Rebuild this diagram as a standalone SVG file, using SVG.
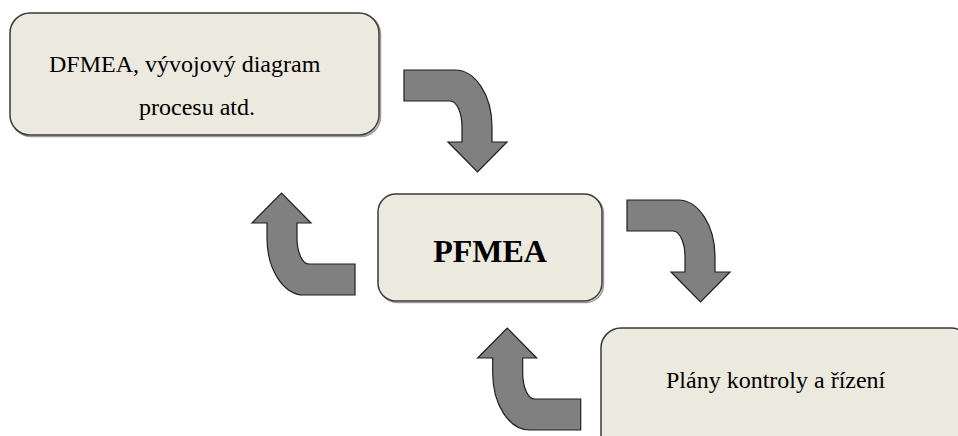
<svg xmlns="http://www.w3.org/2000/svg" width="958" height="436" viewBox="0 0 958 436">
  <defs>
    <!-- bent block arrow: horizontal shaft from the left, turning down into a head -->
    <path id="bent-arrow" d="M0,0 L51,0 A37,57 0 0 1 88,57 L88,72 L103,72 L73.5,102 L44,72 L58,72 L58,57 A12,26 0 0 0 46,31 L0,31 Z"/>
  </defs>
  <style>
    .box { fill: #ECE9DF; stroke: #3a3a3a; stroke-width: 1.5; }
    .shadow { fill: none; stroke: #9a9a9a; stroke-width: 1.5; }
    .label { font-family: "Liberation Serif", "Times New Roman", serif; fill: #000; font-size: 24px; }
    .title { font-family: "Liberation Serif", "Times New Roman", serif; fill: #000; font-size: 32px; font-weight: bold; text-anchor: middle; }
    .arrow { fill: #808080; stroke: #1e1e1e; stroke-width: 1.2; stroke-linejoin: miter; }
  </style>
  <rect width="958" height="436" fill="#ffffff"/>

  <g id="inputs">
    <rect class="shadow" x="11.5" y="14.5" width="369" height="122" rx="20"/>
    <rect class="box" x="10" y="13" width="369" height="122" rx="20"/>
    <text class="label" x="49" y="72">DFMEA, vývojový diagram</text>
    <text class="label" x="139" y="115">procesu atd.</text>
  </g>

  <g id="pfmea">
    <rect class="shadow" x="379.5" y="195.5" width="224" height="107" rx="18"/>
    <rect class="box" x="378" y="194" width="224" height="107" rx="18"/>
    <text class="title" x="490" y="262">PFMEA</text>
  </g>

  <g id="control-plans">
    <rect class="shadow" x="602.5" y="329.5" width="370" height="130" rx="20"/>
    <rect class="box" x="601" y="328" width="370" height="130" rx="20"/>
    <text class="label" x="666" y="388">Plány kontroly a řízení</text>
  </g>

  <g id="connectors">
    <use href="#bent-arrow" class="arrow" transform="translate(404,70)"/>
    <use href="#bent-arrow" class="arrow" transform="translate(627,200)"/>
    <use href="#bent-arrow" class="arrow" transform="translate(580.7,430) rotate(180)"/>
    <use href="#bent-arrow" class="arrow" transform="translate(355,295) rotate(180)"/>
  </g>
</svg>
